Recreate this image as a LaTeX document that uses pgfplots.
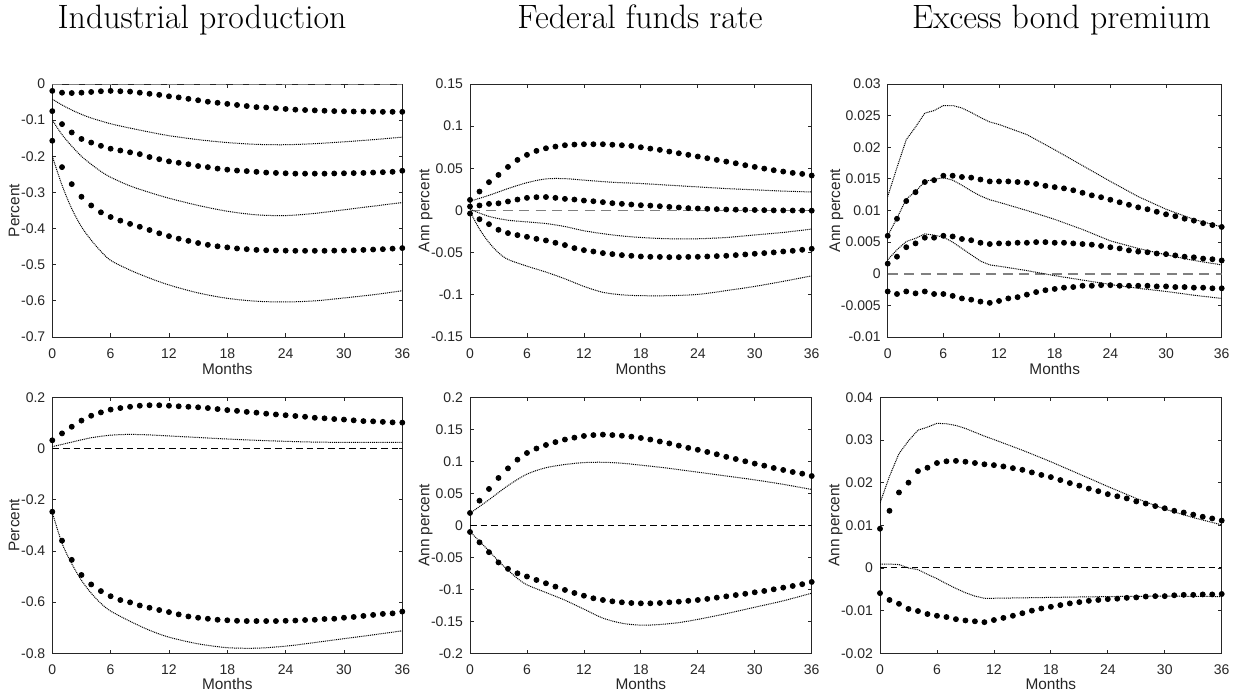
\documentclass[border=0pt]{standalone}
\usepackage{fontspec}
\setsansfont{Liberation Sans}
\usepackage{pgfplots}
\usepackage{pgfplotstable}
\pgfplotsset{compat=1.18}
\definecolor{axgray}{RGB}{38,38,38}
\definecolor{zgray}{RGB}{128,128,128}

\pgfplotstableread{
m a b c
0 -0.019 -0.075 -0.157
1 -0.024 -0.111 -0.230
2 -0.025 -0.134 -0.277
3 -0.024 -0.152 -0.312
4 -0.022 -0.162 -0.336
5 -0.020 -0.171 -0.355
6 -0.019 -0.179 -0.368
7 -0.020 -0.184 -0.378
8 -0.021 -0.189 -0.387
9 -0.024 -0.194 -0.395
10 -0.027 -0.202 -0.404
11 -0.030 -0.208 -0.413
12 -0.034 -0.214 -0.421
13 -0.037 -0.218 -0.428
14 -0.041 -0.222 -0.434
15 -0.045 -0.227 -0.440
16 -0.049 -0.230 -0.445
17 -0.052 -0.234 -0.449
18 -0.055 -0.237 -0.452
19 -0.058 -0.2395 -0.455
20 -0.061 -0.241 -0.457
21 -0.064 -0.243 -0.459
22 -0.065 -0.245 -0.460
23 -0.067 -0.246 -0.4605
24 -0.069 -0.247 -0.461
25 -0.071 -0.248 -0.4615
26 -0.072 -0.248 -0.4615
27 -0.073 -0.248 -0.4615
28 -0.074 -0.248 -0.4615
29 -0.075 -0.2475 -0.461
30 -0.0755 -0.247 -0.4605
31 -0.076 -0.2465 -0.460
32 -0.076 -0.246 -0.459
33 -0.0765 -0.245 -0.458
34 -0.077 -0.244 -0.457
35 -0.077 -0.243 -0.4555
36 -0.077 -0.240 -0.454
}\dotsA

\pgfplotstableread{
m a b c
0 0.0126 0.0047 -0.0036
1 0.0225 0.0060 -0.0103
2 0.0336 0.0079 -0.0162
3 0.0422 0.0085 -0.0229
4 0.0517 0.0107 -0.0268
5 0.0600 0.0130 -0.0292
6 0.0660 0.0150 -0.0312
7 0.0707 0.0158 -0.0336
8 0.0738 0.0160 -0.0355
9 0.0758 0.0150 -0.0383
10 0.0774 0.0138 -0.0410
11 0.0782 0.0130 -0.0446
12 0.0786 0.0118 -0.0470
13 0.0786 0.0110 -0.0486
14 0.0786 0.0099 -0.0505
15 0.0780 0.0087 -0.0517
16 0.0774 0.0079 -0.0529
17 0.0766 0.0071 -0.0537
18 0.0750 0.0063 -0.0545
19 0.0734 0.0058 -0.0549
20 0.0719 0.0051 -0.0550
21 0.0699 0.0043 -0.0553
22 0.0679 0.0036 -0.0553
23 0.0660 0.0028 -0.0550
24 0.0640 0.0024 -0.0549
25 0.0620 0.0020 -0.0545
26 0.0600 0.0016 -0.0541
27 0.0580 0.0012 -0.0537
28 0.0560 0.0010 -0.0529
29 0.0537 0.0008 -0.0521
30 0.0517 0.0006 -0.0513
31 0.0497 0.0004 -0.0505
32 0.0478 0.0002 -0.0497
33 0.0462 0.0001 -0.0486
34 0.0446 0.0000 -0.0478
35 0.0434 0.0000 -0.0466
36 0.0415 -0.0002 -0.0454
}\dotsB

\pgfplotstableread{
m a b c
0 0.0060 0.0016 -0.0028
1 0.0087 0.0027 -0.0032
2 0.0115 0.0042 -0.0028
3 0.0129 0.0048 -0.0031
4 0.0145 0.0057 -0.0028
5 0.0148 0.0057 -0.0032
6 0.0155 0.0060 -0.0032
7 0.0155 0.0059 -0.0035
8 0.0153 0.0055 -0.0039
9 0.0152 0.0053 -0.0041
10 0.0149 0.0049 -0.0044
11 0.0146 0.0047 -0.0046
12 0.0146 0.0048 -0.0043
13 0.0146 0.0048 -0.0039
14 0.0145 0.0049 -0.0037
15 0.0144 0.0049 -0.0033
16 0.0142 0.0050 -0.0029
17 0.0139 0.0050 -0.0026
18 0.0137 0.0049 -0.0024
19 0.0135 0.0049 -0.0022
20 0.0132 0.0048 -0.0021
21 0.0128 0.0047 -0.0019
22 0.0124 0.0046 -0.0019
23 0.0121 0.0044 -0.0018
24 0.0117 0.0042 -0.0018
25 0.0113 0.0040 -0.0019
26 0.0109 0.0037 -0.0019
27 0.0105 0.0035 -0.0019
28 0.0102 0.0034 -0.0019
29 0.0098 0.0032 -0.0020
30 0.0094 0.0031 -0.0020
31 0.0091 0.0029 -0.0021
32 0.0087 0.0027 -0.0021
33 0.0084 0.0026 -0.0022
34 0.0080 0.0024 -0.0022
35 0.0077 0.0023 -0.0023
36 0.0074 0.0021 -0.0023
}\dotsC

\pgfplotstableread{
m a c
0 0.032 -0.247
1 0.059 -0.360
2 0.085 -0.435
3 0.109 -0.494
4 0.128 -0.531
5 0.141 -0.557
6 0.152 -0.577
7 0.158 -0.592
8 0.163 -0.601
9 0.167 -0.613
10 0.169 -0.622
11 0.169 -0.631
12 0.167 -0.639
13 0.165 -0.648
14 0.163 -0.656
15 0.161 -0.661
16 0.158 -0.665
17 0.154 -0.669
18 0.150 -0.671
19 0.147 -0.673
20 0.143 -0.674
21 0.140 -0.674
22 0.136 -0.674
23 0.133 -0.674
24 0.130 -0.673
25 0.127 -0.672
26 0.124 -0.670
27 0.120 -0.669
28 0.118 -0.666
29 0.115 -0.665
30 0.113 -0.661
31 0.110 -0.658
32 0.107 -0.654
33 0.106 -0.650
34 0.104 -0.646
35 0.102 -0.644
36 0.101 -0.637
}\dotsD

\pgfplotstableread{
m a c
0 0.0193 -0.0104
1 0.0385 -0.0266
2 0.0568 -0.0420
3 0.0740 -0.0580
4 0.0890 -0.0680
5 0.1026 -0.0750
6 0.1130 -0.0800
7 0.1200 -0.0854
8 0.1255 -0.0906
9 0.1300 -0.0958
10 0.1340 -0.1010
11 0.1370 -0.1057
12 0.1396 -0.1100
13 0.1410 -0.1140
14 0.1417 -0.1167
15 0.1410 -0.1188
16 0.1400 -0.1203
17 0.1385 -0.1214
18 0.1365 -0.1219
19 0.1340 -0.1219
20 0.1310 -0.1214
21 0.1280 -0.1203
22 0.1245 -0.1193
23 0.1210 -0.1180
24 0.1180 -0.1167
25 0.1146 -0.1150
26 0.1110 -0.1130
27 0.1070 -0.1110
28 0.1036 -0.1090
29 0.1000 -0.1070
30 0.0964 -0.1047
31 0.0932 -0.1026
32 0.0896 -0.1000
33 0.0865 -0.0974
34 0.0833 -0.0948
35 0.0807 -0.0920
36 0.0770 -0.0885
}\dotsE

\pgfplotstableread{
m a c
0 0.0092 -0.0059
1 0.0134 -0.0075
2 0.0177 -0.0084
3 0.0200 -0.0096
4 0.0227 -0.0101
5 0.0235 -0.0108
6 0.0246 -0.0112
7 0.0250 -0.0115
8 0.0251 -0.0120
9 0.0249 -0.0123
10 0.0246 -0.0125
11 0.0243 -0.0127
12 0.0241 -0.0122
13 0.0238 -0.0117
14 0.0234 -0.0112
15 0.0230 -0.0106
16 0.0224 -0.0100
17 0.0218 -0.0095
18 0.0213 -0.0091
19 0.0206 -0.0087
20 0.0199 -0.0083
21 0.0193 -0.0080
22 0.0186 -0.0077
23 0.0180 -0.0075
24 0.0173 -0.0073
25 0.0168 -0.0072
26 0.0163 -0.0070
27 0.0156 -0.0069
28 0.0151 -0.0067
29 0.0145 -0.0066
30 0.0140 -0.0066
31 0.0134 -0.0064
32 0.0130 -0.0063
33 0.0125 -0.0063
34 0.0120 -0.0062
35 0.0116 -0.0062
36 0.0111 -0.0061
}\dotsF

\pgfplotsset{
  irf/.style={
    scale only axis, anchor=south west,
    xmin=0, xmax=36,
    xtick={0,6,12,18,24,30,36},
    xticklabels={0,6,12,18,24,30,36},
    tick align=inside, major tick length=1.8pt,
    axis line style={axgray, line width=0.4pt},
    tick style={axgray, line width=0.4pt},
    ticklabel style={font=\fontsize{7}{8}\selectfont\sffamily, text=axgray},
    xticklabel style={yshift=-2.4pt},
    label style={font=\fontsize{7.7}{9}\selectfont\sffamily, text=axgray},
    xlabel={Months},
    scaled ticks=false,
  },
  dotser/.style={only marks, mark=*, mark size=1.25pt, draw=black, fill=black, mark options={draw=black, fill=black}},
  band/.style={black, line width=0.5pt, dash pattern=on 0.5pt off 0.45pt, mark=none},
  bandsm/.style={band, smooth},
  zerog/.style={zgray, line width=0.9pt, dash pattern=on 5pt off 3.2pt, mark=none},
  zerok/.style={black, line width=0.5pt, dash pattern=on 3.3pt off 2pt, mark=none},
}

\begin{document}
\begin{tikzpicture}
\path[use as bounding box] (0,0) rectangle (618.5pt,349pt);

\node[anchor=base, font=\fontsize{16.9}{20}\selectfont] at (101pt,334.6pt) {Industrial production};
\node[anchor=base, font=\fontsize{16.9}{20}\selectfont] at (320pt,334.6pt) {Federal funds rate};
\node[anchor=base, font=\fontsize{16.9}{20}\selectfont] at (530.75pt,334.6pt) {Excess bond premium};

% Panel 1
\begin{axis}[irf, at={(26.15pt,180.5pt)}, width=175pt, height=126.5pt,
  ymin=-0.7, ymax=0,
  ytick={-0.7,-0.6,-0.5,-0.4,-0.3,-0.2,-0.1,0},
  yticklabels={-0.7,-0.6,-0.5,-0.4,-0.3,-0.2,-0.1,0},
  ylabel={Percent},
  xlabel style={at={(axis description cs:0.5,-0.150)}, anchor=base},
  ylabel style={at={(axis description cs:-0.0943,0.5)}, anchor=base}]
\addplot[zerog] coordinates {(0,0) (36,0)};
\addplot[bandsm] coordinates {(0,-0.042) (1,-0.058) (2,-0.072) (3,-0.084) (4,-0.094) (6,-0.110) (8,-0.122) (10,-0.133) (12,-0.143) (15,-0.154) (18,-0.162) (21,-0.167) (24,-0.168) (27,-0.165) (30,-0.160) (33,-0.154) (36,-0.147)};
\addplot[bandsm] coordinates {(0,-0.100) (1,-0.140) (2,-0.172) (3,-0.200) (4,-0.222) (5,-0.242) (6,-0.258) (8,-0.282) (10,-0.300) (12,-0.316) (15,-0.336) (18,-0.352) (21,-0.362) (24,-0.364) (27,-0.358) (30,-0.348) (33,-0.338) (36,-0.328)};
\addplot[bandsm] coordinates {(0,-0.200) (1,-0.280) (2,-0.345) (3,-0.395) (4,-0.432) (5,-0.463) (6,-0.488) (8,-0.515) (10,-0.537) (12,-0.556) (15,-0.578) (18,-0.593) (21,-0.601) (24,-0.603) (27,-0.600) (30,-0.592) (33,-0.583) (36,-0.572)};
\addplot[dotser] table[x=m,y=a] {\dotsA};
\addplot[dotser] table[x=m,y=b] {\dotsA};
\addplot[dotser] table[x=m,y=c] {\dotsA};
\end{axis}

% Panel 2
\begin{axis}[irf, at={(235pt,180.5pt)}, width=170.85pt, height=126.5pt,
  ymin=-0.15, ymax=0.15,
  ytick={-0.15,-0.1,-0.05,0,0.05,0.1,0.15},
  yticklabels={-0.15,-0.1,-0.05,0,0.05,0.1,0.15},
  ylabel={Ann percent},
  xlabel style={at={(axis description cs:0.5,-0.150)}, anchor=base},
  ylabel style={at={(axis description cs:-0.1188,0.5)}, anchor=base}]
\addplot[zerog] coordinates {(0,0) (36,0)};
\addplot[bandsm] coordinates {(0,0.011) (2,0.018) (4,0.026) (6,0.033) (8,0.0375) (10,0.0378) (12,0.036) (15,0.0335) (18,0.032) (21,0.030) (24,0.028) (27,0.026) (30,0.0245) (33,0.023) (36,0.022)};
\addplot[bandsm] coordinates {(0,0.0014) (2,-0.007) (4,-0.0115) (6,-0.0135) (8,-0.0155) (10,-0.019) (12,-0.024) (15,-0.029) (18,-0.032) (21,-0.0335) (24,-0.0335) (27,-0.032) (30,-0.029) (33,-0.026) (36,-0.022)};
\addplot[bandsm] coordinates {(0,-0.0014) (1,-0.022) (2,-0.038) (3,-0.050) (4,-0.058) (6,-0.066) (8,-0.073) (10,-0.081) (12,-0.090) (14,-0.097) (16,-0.100) (18,-0.101) (21,-0.101) (24,-0.0995) (27,-0.095) (30,-0.090) (33,-0.084) (36,-0.0775)};
\addplot[dotser] table[x=m,y=a] {\dotsB};
\addplot[dotser] table[x=m,y=b] {\dotsB};
\addplot[dotser] table[x=m,y=c] {\dotsB};
\end{axis}

% Panel 3
\begin{axis}[irf, at={(443.85pt,180.5pt)}, width=167pt, height=126.5pt,
  ymin=-0.01, ymax=0.03,
  ytick={-0.01,-0.005,0,0.005,0.01,0.015,0.02,0.025,0.03},
  yticklabels={-0.01,-0.005,0,0.005,0.01,0.015,0.02,0.025,0.03},
  ylabel={Ann percent},
  xlabel style={at={(axis description cs:0.5,-0.150)}, anchor=base},
  ylabel style={at={(axis description cs:-0.1425,0.5)}, anchor=base}]
\addplot[zerog] coordinates {(0,0) (36,0)};
\addplot[band] coordinates {(0,0.0122) (1,0.0168) (2,0.0212) (3,0.0232) (4,0.0254) (5,0.0258) (6,0.0266) (7,0.0266) (8,0.0262) (9,0.0255) (10,0.0247) (11,0.0240) (12,0.0236) (15,0.0220) (18,0.0196) (21,0.0171) (24,0.0146) (27,0.0122) (30,0.0102) (33,0.0086) (36,0.0074)};
\addplot[band] coordinates {(0,0.0060) (1,0.0088) (2,0.0118) (3,0.0130) (4,0.0146) (5,0.0149) (6,0.0152) (7,0.0148) (8,0.0140) (9,0.0131) (10,0.0123) (11,0.0117) (12,0.0113) (15,0.0100) (18,0.0086) (21,0.0070) (24,0.0052) (27,0.0040) (30,0.0030) (33,0.0021) (36,0.0014)};
\addplot[band] coordinates {(0,0.0022) (1,0.0038) (2,0.0051) (3,0.0056) (4,0.0063) (5,0.0061) (6,0.0058) (7,0.0050) (8,0.0040) (9,0.0030) (10,0.0020) (11,0.0014) (12,0.0012) (15,0.0005) (18,-0.0003) (21,-0.0010) (24,-0.0017) (27,-0.0023) (30,-0.0028) (33,-0.0034) (36,-0.0039)};
\addplot[dotser] table[x=m,y=a] {\dotsC};
\addplot[dotser] table[x=m,y=b] {\dotsC};
\addplot[dotser] table[x=m,y=c] {\dotsC};
\end{axis}

% Panel 4
\begin{axis}[irf, at={(26.15pt,22.35pt)}, width=175pt, height=128pt,
  ymin=-0.8, ymax=0.2,
  ytick={-0.8,-0.6,-0.4,-0.2,0,0.2},
  yticklabels={-0.8,-0.6,-0.4,-0.2,0,0.2},
  ylabel={Percent},
  xlabel style={at={(axis description cs:0.5,-0.143)}, anchor=base},
  ylabel style={at={(axis description cs:-0.0943,0.5)}, anchor=base}]
\addplot[zerok] coordinates {(0,0) (36,0)};
\addplot[bandsm] coordinates {(0,0.007) (2,0.025) (4,0.042) (6,0.052) (8,0.055) (10,0.053) (12,0.049) (15,0.043) (18,0.037) (21,0.032) (24,0.028) (27,0.025) (30,0.024) (33,0.024) (36,0.024)};
\addplot[bandsm] coordinates {(0,-0.250) (1,-0.37) (2,-0.45) (3,-0.515) (4,-0.565) (5,-0.605) (6,-0.635) (8,-0.675) (10,-0.71) (12,-0.737) (15,-0.763) (18,-0.778) (21,-0.780) (24,-0.772) (27,-0.758) (30,-0.743) (33,-0.728) (36,-0.712)};
\addplot[dotser] table[x=m,y=a] {\dotsD};
\addplot[dotser] table[x=m,y=c] {\dotsD};
\end{axis}

% Panel 5
\begin{axis}[irf, at={(235pt,22.35pt)}, width=170.85pt, height=128pt,
  ymin=-0.2, ymax=0.2,
  ytick={-0.2,-0.15,-0.1,-0.05,0,0.05,0.1,0.15,0.2},
  yticklabels={-0.2,-0.15,-0.1,-0.05,0,0.05,0.1,0.15,0.2},
  ylabel={Ann percent},
  xlabel style={at={(axis description cs:0.5,-0.143)}, anchor=base},
  ylabel style={at={(axis description cs:-0.1188,0.5)}, anchor=base}]
\addplot[zerok] coordinates {(0,0) (36,0)};
\addplot[bandsm] coordinates {(0,0.0188) (2,0.040) (4,0.062) (6,0.080) (8,0.090) (10,0.095) (12,0.098) (14,0.0985) (16,0.097) (18,0.094) (21,0.089) (24,0.083) (27,0.077) (30,0.071) (33,0.064) (36,0.056)};
\addplot[bandsm] coordinates {(0,-0.0099) (1,-0.025) (2,-0.040) (3,-0.056) (4,-0.070) (5,-0.083) (6,-0.093) (8,-0.105) (10,-0.117) (12,-0.131) (14,-0.145) (16,-0.153) (18,-0.156) (20,-0.155) (22,-0.152) (24,-0.147) (27,-0.138) (30,-0.128) (33,-0.118) (36,-0.106)};
\addplot[dotser] table[x=m,y=a] {\dotsE};
\addplot[dotser] table[x=m,y=c] {\dotsE};
\end{axis}

% Panel 6
\begin{axis}[irf, at={(440pt,22.35pt)}, width=170.85pt, height=128pt,
  ymin=-0.02, ymax=0.04,
  ytick={-0.02,-0.01,0,0.01,0.02,0.03,0.04},
  yticklabels={-0.02,-0.01,0,0.01,0.02,0.03,0.04},
  ylabel={Ann percent},
  xlabel style={at={(axis description cs:0.5,-0.143)}, anchor=base},
  ylabel style={at={(axis description cs:-0.1188,0.5)}, anchor=base}]
\addplot[zerok] coordinates {(0,0) (36,0)};
\addplot[band] coordinates {(0,0.0152) (1,0.0215) (2,0.0268) (3,0.0298) (4,0.0323) (5,0.0330) (6,0.0339) (7,0.0338) (8,0.0334) (9,0.0327) (10,0.0318) (11,0.0309) (12,0.0301) (15,0.0276) (18,0.0249) (21,0.0220) (24,0.0191) (27,0.0163) (30,0.0138) (33,0.0118) (36,0.0101)};
\addplot[band] coordinates {(0,0.0009) (1,0.0009) (2,0.0008) (3,0.0000) (4,-0.0004) (5,-0.0015) (6,-0.0025) (7,-0.0037) (8,-0.0048) (9,-0.0058) (10,-0.0066) (11,-0.0071) (12,-0.0071) (18,-0.0069) (24,-0.0067) (30,-0.0066) (36,-0.0067)};
\addplot[dotser] table[x=m,y=a] {\dotsF};
\addplot[dotser] table[x=m,y=c] {\dotsF};
\end{axis}
\end{tikzpicture}
\end{document}
